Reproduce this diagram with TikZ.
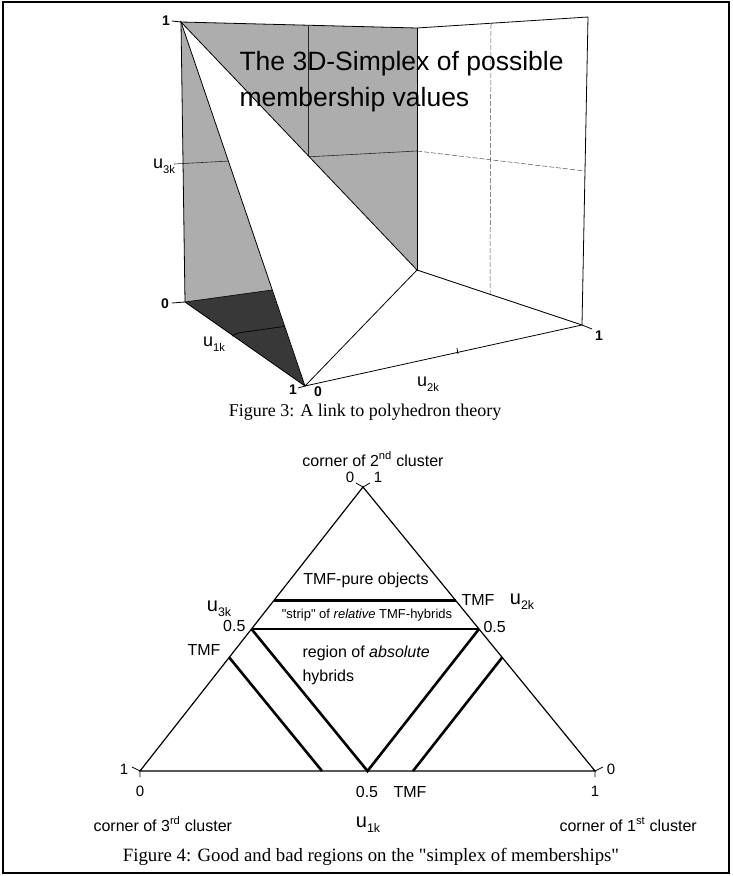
\documentclass[tikz,border=0pt]{standalone}
\usepackage{fontspec}
\setmainfont{Liberation Serif}[Ligatures=TeXOff]
\setsansfont{Liberation Sans}[Ligatures=TeXOff]
\usetikzlibrary{calc}

\newcommand{\setfs}[1]{\fontsize{#1}{#1}\selectfont}
% u with a lowered index, e.g. \uidx{3k}
\newcommand{\uidx}[1]{u\raisebox{-0.55ex}{\fontsize{0.62em}{0.62em}\selectfont #1}}

\begin{document}
\begin{tikzpicture}[x=1pt,y=-1pt,
  thin3d/.style={line width=0.8pt,black},
  grid3d/.style={line width=0.6pt,black!85},
  dash3d/.style={line width=0.5pt,black!70,dashed,dash pattern=on 5pt off 2pt},
  tick/.style={line width=0.8pt},
  num3d/.style={font=\sffamily\bfseries\setfs{14}},
  axlbl3d/.style={font=\sffamily\setfs{18}},
  caption/.style={font=\rmfamily\setfs{18},anchor=base},
  lbl/.style={font=\sffamily\setfs{16},anchor=base},
  tri/.style={line width=1.2pt},
  bold/.style={line width=2.6pt},
]
\useasboundingbox (0,0) rectangle (732,876);
\draw[line width=1.2pt] (3,2) rectangle (729,873);

% ---------- 3D unit cube with the simplex ----------
\coordinate (T)  at (181,22);   % u3k = 1
\coordinate (O)  at (185,302);  % origin
\coordinate (P1) at (305,386);  % u1k = 1
\coordinate (P2) at (417,270);  % u2k = 1
\coordinate (BT) at (417,28);
\coordinate (RT) at (588,17);
\coordinate (RB) at (582,325);
\coordinate (FX) at (272,290);  % simplex edge meets back floor edge

% back wall (stippled grey)
\fill[black!32] (T) -- (BT) -- (P2) -- (O) -- cycle;
\draw[grid3d] (174,164) -- (417,151);
\draw[grid3d] (308,26) -- (308,290);
% dark floor part
\fill[black!78] (O) -- (FX) -- (P1) -- cycle;
\draw[line width=0.7pt,black] (238,333) -- (287,326);
% the simplex
\filldraw[thin3d,fill=white] (T) -- (P1) -- (P2) -- cycle;
% side wall grid
\draw[dash3d] (417,151) -- (585,171);
\draw[dash3d] (491,24) -- (490,294);
% cube edges
\draw[thin3d] (T) -- (BT) -- (RT) -- (RB);
\draw[thin3d] (BT) -- (P2);
\draw[thin3d] (T) -- (O) -- (P1) -- (RB) -- (P2);
\draw[line width=0.6pt] (O) -- (FX);
% ticks
\draw[tick] (172,21) -- (T);
\draw[tick] (172,303) -- (O);
\draw[tick] (238,333) -- (232,336);
\draw[tick] (P1) -- (298,388);
\draw[tick] (457,348) -- (458,354);
\draw[tick] (RB) -- (592,329);

\node[num3d] (n1top) at (166,21) {1};
\node[num3d] (n0top) at (165,304) {0};
\node[num3d] (n1u1)  at (293,390) {1};
\node[num3d] (n0u2)  at (318,392) {0};
\node[num3d] (n1u2)  at (599,336) {1};
\node[axlbl3d] (u3) at (164,166) {\uidx{3k}};
\node[axlbl3d] (u1) at (214,344) {\uidx{1k}};
\node[axlbl3d] (u2) at (428,384) {\uidx{2k}};

\node[font=\sffamily\setfs{26.5},anchor=base west] (title1) at (236,70) {The 3D-Simplex of possible};
\node[font=\sffamily\setfs{26.5},anchor=base west] (title2) at (236,106) {membership values};

\node[caption] (cap3) at (365,416) {Figure 3: A link to polyhedron theory};

% ---------- triangle of memberships ----------
\coordinate (A) at (363,487);  % corner of 2nd cluster
\coordinate (L) at (140,771);  % corner of 3rd cluster
\coordinate (R) at (595,771);  % corner of 1st cluster

\coordinate (lm) at (barycentric cs:A=0.5,L=0.5);
\coordinate (rm) at (barycentric cs:A=0.5,R=0.5);
\coordinate (bm) at (barycentric cs:L=0.5,R=0.5);
\coordinate (lu) at (barycentric cs:A=0.6,L=0.4);
\coordinate (ru) at (barycentric cs:A=0.6,R=0.4);
\coordinate (lt) at (barycentric cs:A=0.4,L=0.6);
\coordinate (lb) at (barycentric cs:R=0.4,L=0.6);
\coordinate (rt) at (barycentric cs:A=0.4,R=0.6);
\coordinate (rb) at (barycentric cs:L=0.4,R=0.6);

\draw[tri] (A) -- (L) -- (R) -- cycle;
\draw[bold] (lu) -- (ru);
\draw[bold] (lm) -- (rm);
\draw[bold,line join=miter] (lm) -- (bm) -- (rm);
\draw[bold] (lt) -- (lb);
\draw[bold] (rt) -- (rb);
% corner ticks
\draw[tick] (356,483) -- (A) -- (370,483);
\draw[tick] (132,767) -- (L) -- (140,777);
\draw[tick] (603,767) -- (R) -- (595,777);

\node[lbl] (c2) at (373,466) {corner of 2\textsuperscript{nd} cluster};
\node[lbl,font=\sffamily\setfs{15}] (a0) at (350,482) {0};
\node[lbl,font=\sffamily\setfs{15}] (a1) at (378,482) {1};
\node[lbl] (pure) at (366,584) {TMF-pure objects};
\node[lbl] (tmfr) at (478,605) {TMF};
\node[lbl,font=\sffamily\setfs{20}] (u2b) at (522,604) {\uidx{2k}};
\node[lbl,font=\sffamily\setfs{20}] (u3b) at (219,611) {\uidx{3k}};
\node[lbl,font=\sffamily\setfs{13}] (strip) at (367,618) {"strip" of \textit{relative} TMF-hybrids};
\node[lbl,anchor=base east] (hl) at (249,631) {0.5};
\node[lbl,anchor=base west] (hr) at (480,632) {0.5};
\node[lbl] (tmfl) at (204,655) {TMF};
\node[lbl,anchor=base west] (reg1) at (299,657) {region of \textit{absolute}};
\node[lbl,anchor=base west] (reg2) at (299,681) {hybrids};
\node[lbl,font=\sffamily\setfs{15}] (l1) at (124,774) {1};
\node[lbl,font=\sffamily\setfs{15}] (l0) at (140,796) {0};
\node[lbl] (b05) at (367,797) {0.5};
\node[lbl] (btmf) at (410,797) {TMF};
\node[lbl,font=\sffamily\setfs{15}] (r1) at (595,796) {1};
\node[lbl,font=\sffamily\setfs{15}] (r0) at (611,774) {0};
\node[lbl,anchor=base west] (c3) at (90,831) {corner of 3\textsuperscript{rd} cluster};
\node[lbl,font=\sffamily\setfs{20}] (u1b) at (368,827) {\uidx{1k}};
\node[lbl,anchor=base west] (c1) at (556,831) {corner of 1\textsuperscript{st} cluster};

\node[caption,font=\rmfamily\setfs{18.8}] (cap4) at (371,861) {Figure 4: Good and bad regions on the "simplex of memberships"};
\end{tikzpicture}
\end{document}
